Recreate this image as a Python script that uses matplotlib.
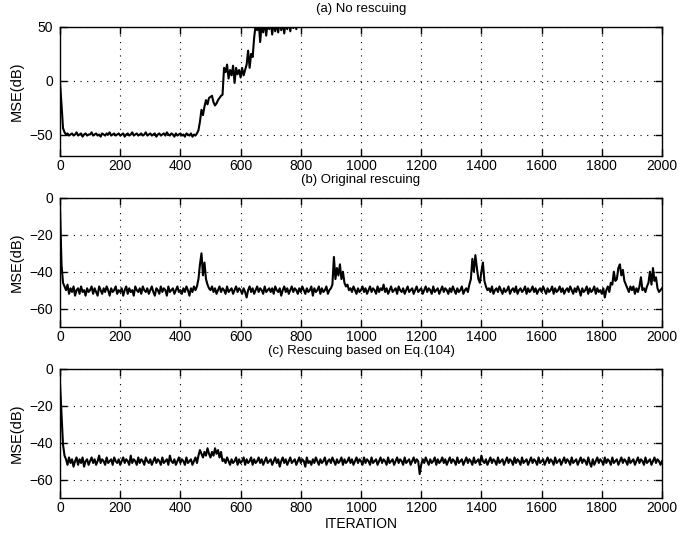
import numpy as np
import matplotlib
matplotlib.use('Agg')
import matplotlib.pyplot as plt

plt.rcParams['font.family'] = ['Liberation Sans', 'DejaVu Sans']
plt.rcParams['font.size'] = 10

# MSE (dB), one value every 5 iterations
step = 5

# (a) no rescuing: diverges after ~450, off the top of the plot past ~800
mse_a = [
    -2, -22, -44, -48, -50, -49, -51, -50, -49, -51, -50, -48, -51, -50, -49, -52, -50, -49, -51, -50,
    -50, -48, -51, -50, -49, -51, -50, -52, -49, -50, -51, -49, -50, -48, -51, -50, -49, -51, -50, -49,
    -51, -50, -49, -52, -50, -49, -51, -50, -48, -51, -50, -49, -51, -50, -49, -51, -50, -48, -51, -50,
    -49, -51, -50, -49, -52, -50, -49, -51, -50, -49, -51, -48, -50, -51, -49, -50, -52, -49, -51, -50,
    -49, -51, -50, -52, -49, -50, -51, -49, -52, -50, -51, -49, -46, -38, -27, -32, -24, -18, -22, -16,
    -15, -14, -20, -23, -21, -18, -16, -14, -13, 12, 8, 15, 2, 10, 5, 14, -2, 12, 6, 10,
    3, 12, 5, 10, 15, 28, 12, 25, 22, 40, 52, 47, 55, 36, 53, 45, 56, 42, 54, 48,
    55, 43, 56, 46, 54, 45, 57, 47, 55, 44, 56, 48, 57, 46, 55, 49, 58, 48, 56, 60,
    58,
]

# (b) original rescuing
mse_b = [
    -5, -36, -46, -48, -50, -47, -52, -49, -51, -48, -53, -50, -49, -52, -48, -51, -50, -53, -49, -51,
    -50, -48, -52, -49, -51, -53, -48, -50, -52, -49, -51, -48, -50, -53, -49, -51, -50, -48, -52, -50,
    -51, -49, -53, -50, -48, -52, -49, -51, -50, -53, -48, -50, -51, -49, -52, -48, -50, -51, -49, -52,
    -50, -48, -51, -53, -49, -50, -52, -48, -51, -49, -50, -53, -48, -51, -50, -49, -52, -50, -48, -51,
    -50, -52, -49, -51, -48, -50, -53, -49, -51, -48, -50, -48, -44, -36, -30, -42, -35, -44, -47, -49,
    -50, -48, -51, -49, -52, -50, -48, -51, -49, -50, -52, -48, -51, -50, -49, -52, -50, -48, -51, -49,
    -50, -52, -49, -51, -54, -50, -48, -51, -49, -52, -50, -48, -51, -49, -50, -52, -48, -51, -50, -49,
    -51, -49, -52, -48, -50, -51, -49, -53, -50, -48, -51, -49, -52, -50, -48, -51, -49, -50, -52, -49,
    -51, -48, -50, -52, -49, -51, -50, -48, -53, -49, -51, -50, -48, -52, -49, -51, -50, -48, -52, -50,
    -49, -47, -32, -44, -38, -42, -36, -44, -40, -46, -48, -47, -50, -49, -51, -48, -50, -52, -49, -51,
    -50, -48, -51, -49, -52, -50, -48, -51, -49, -50, -52, -48, -51, -49, -50, -47, -51, -49, -52, -50,
    -48, -51, -50, -49, -52, -48, -50, -51, -49, -52, -50, -48, -51, -50, -49, -52, -50, -48, -51, -50,
    -49, -52, -50, -48, -51, -49, -50, -52, -48, -51, -50, -49, -52, -50, -48, -51, -49, -50, -52, -49,
    -51, -48, -50, -52, -49, -51, -50, -48, -52, -50, -49, -51, -47, -44, -33, -40, -31, -38, -44, -46,
    -40, -35, -45, -48, -50, -49, -51, -48, -52, -50, -49, -51, -48, -50, -52, -49, -51, -50, -48, -52,
    -50, -49, -51, -48, -52, -50, -49, -51, -50, -48, -52, -49, -51, -50, -48, -51, -49, -52, -50, -49,
    -51, -48, -50, -52, -49, -51, -50, -48, -52, -49, -51, -50, -48, -51, -49, -52, -50, -49, -51, -48,
    -50, -52, -49, -51, -48, -50, -53, -49, -51, -50, -48, -52, -49, -51, -50, -48, -52, -49, -51, -50,
    -52, -49, -54, -50, -48, -51, -46, -47, -40, -45, -44, -38, -36, -42, -39, -45, -47, -49, -51, -48,
    -50, -48, -52, -49, -51, -48, -43, -50, -49, -51, -48, -46, -40, -47, -38, -45, -43, -49, -51, -50,
    -49,
]

# (c) rescuing based on Eq.(104)
mse_c = [
    -8, -24, -41, -47, -49, -52, -48, -51, -49, -53, -50, -48, -52, -49, -51, -48, -53, -50, -49, -52,
    -50, -48, -51, -49, -52, -50, -47, -51, -49, -50, -52, -48, -51, -50, -49, -52, -48, -50, -51, -49,
    -52, -50, -48, -51, -49, -50, -52, -47, -51, -49, -50, -52, -48, -51, -49, -50, -52, -48, -50, -51,
    -49, -52, -50, -48, -51, -49, -50, -52, -48, -51, -50, -49, -52, -47, -50, -51, -49, -52, -50, -48,
    -51, -49, -50, -52, -48, -51, -50, -49, -52, -50, -48, -51, -47, -44, -46, -48, -45, -47, -43, -46,
    -48, -45, -47, -43, -46, -44, -48, -45, -50, -49, -51, -48, -50, -52, -49, -51, -50, -48, -52, -49,
    -51, -50, -48, -52, -49, -51, -50, -48, -52, -49, -51, -50, -48, -51, -49, -52, -50, -48, -51, -50,
    -49, -52, -50, -48, -51, -49, -53, -50, -48, -51, -49, -52, -50, -48, -51, -50, -49, -52, -50, -48,
    -51, -49, -50, -53, -48, -51, -50, -52, -49, -51, -48, -50, -52, -49, -51, -50, -48, -52, -50, -49,
    -51, -48, -50, -52, -49, -51, -50, -48, -52, -49, -51, -50, -48, -51, -49, -52, -50, -48, -51, -49,
    -50, -52, -48, -51, -49, -50, -52, -48, -51, -50, -49, -52, -50, -48, -51, -49, -50, -52, -48, -51,
    -50, -49, -52, -50, -48, -51, -49, -50, -52, -48, -51, -50, -49, -52, -50, -48, -51, -49, -50, -57,
    -52, -49, -51, -48, -50, -52, -49, -51, -50, -48, -52, -49, -51, -50, -48, -51, -49, -52, -50, -48,
    -51, -49, -50, -52, -48, -51, -50, -49, -52, -50, -48, -51, -49, -50, -52, -48, -51, -50, -49, -52,
    -47, -50, -51, -49, -52, -50, -48, -51, -49, -50, -52, -48, -51, -50, -49, -52, -50, -48, -51, -49,
    -50, -52, -48, -51, -49, -50, -52, -48, -51, -50, -49, -52, -50, -48, -51, -49, -50, -52, -48, -51,
    -50, -49, -52, -50, -48, -51, -49, -50, -52, -48, -51, -50, -49, -52, -50, -48, -51, -49, -50, -52,
    -48, -51, -50, -49, -52, -50, -48, -51, -49, -50, -52, -48, -51, -53, -49, -52, -50, -48, -51, -49,
    -50, -52, -48, -51, -49, -50, -52, -48, -51, -50, -49, -52, -50, -48, -51, -49, -50, -52, -48, -51,
    -50, -49, -52, -50, -48, -51, -49, -50, -52, -48, -51, -50, -49, -52, -50, -48, -51, -49, -50, -52,
    -50,
]

titles = ['(a) No rescuing', '(b) Original rescuing', '(c) Rescuing based on Eq.(104)']
ylims = [(-70, 50), (-70, 0), (-70, 0)]
yticks = [[-50, 0, 50], [-60, -40, -20, 0], [-60, -40, -20, 0]]
xticks = list(range(0, 2001, 200))

fig = plt.figure(figsize=(6.9, 5.36), dpi=100)
W, H = 690, 536
left, right = 60, 662
tops = [27, 198, 369]
bottoms = [156, 327, 498]

for i, data in enumerate([mse_a, mse_b, mse_c]):
    ax = fig.add_axes([left / W, 1 - bottoms[i] / H, (right - left) / W, (bottoms[i] - tops[i]) / H])
    it = np.arange(len(data)) * step
    ax.plot(it, data, color='black', lw=1.5)
    ax.set_xlim(0, 2000)
    ax.set_ylim(*ylims[i])
    ax.set_xticks(xticks)
    ax.set_yticks(yticks[i])
    ax.grid(True, color='black', linestyle=(0, (1, 5)), linewidth=0.8)
    ax.tick_params(direction='in', top=True, right=True, length=5, width=1.0, labelsize=10)
    ax.tick_params(axis='x', pad=2.5)
    ax.tick_params(axis='y', pad=5)
    ax.set_ylabel('MSE(dB)', fontsize=10.5, labelpad=4)
    ax.set_title(titles[i], fontsize=9.5, pad=11)
    for s in ax.spines.values():
        s.set_linewidth(1.0)
    if i == 2:
        ax.set_xlabel('ITERATION', fontsize=10, labelpad=1)

fig.savefig('out.png', dpi=100)
